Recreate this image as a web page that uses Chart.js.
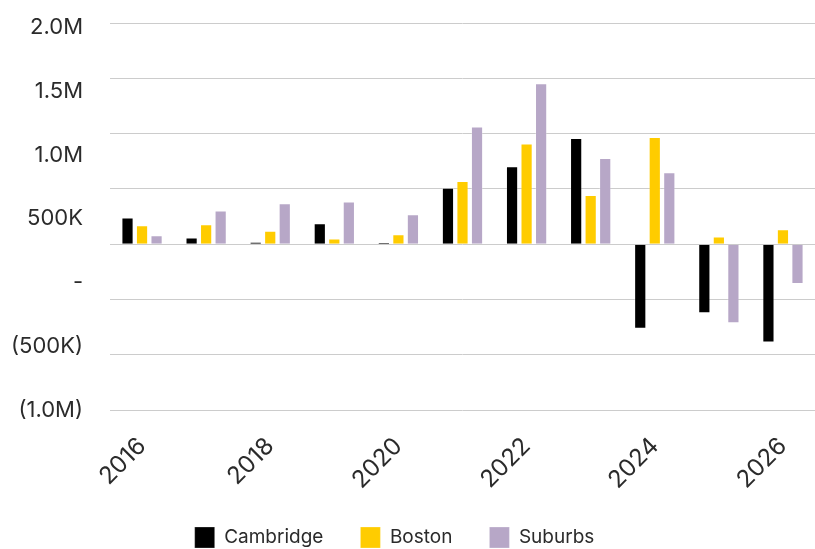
<!DOCTYPE html>
<html>
<head>
<meta charset="utf-8">
<script src="https://cdn.jsdelivr.net/npm/chart.js@4"></script>
<style>
  html, body { margin: 0; padding: 0; background: #fff; }
  #wrap { width: 815px; height: 549px; position: relative; }
</style>
</head>
<body>
<div id="wrap"><canvas id="chart"></canvas></div>
<script>
let years = ["2016", "2017", "2018", "2019", "2020", "2021", "2022", "2023", "2024", "2025", "2026"];
let shownYears = ["2016", "2018", "2020", "2022", "2024", "2026"];

let cambridge = [240000, 60000, 20000, 190000, 15000, 510000, 705000, 960000, -765000, -625000, -890000];
let boston = [170000, 180000, 120000, 50000, 90000, 570000, 910000, 445000, 970000, 70000, 135000];
let suburbs = [80000, 305000, 370000, 385000, 270000, 1065000, 1455000, 780000, 650000, -715000, -360000];

let yTickValues = [2000000, 1500000, 1000000, 500000, 0, -500000, -1000000];
let yTickLabels = ["2.0M", "1.5M", "1.0M", "500K", "-", "(500K)", "(1.0M)"];

let textColor = "#2b2b2b";
let fontName = "Inter";

function yLabel(value) {
    let i = yTickValues.findIndex(t => Math.abs(t - value) < 1);
    return i >= 0 ? yTickLabels[i] : "";
}

function xLabel(value, index) {
    let year = years[index];
    return shownYears.includes(year) ? year : "";
}

function makeDataset(title, values, color) {
    return {
        label: title,
        data: values,
        backgroundColor: color,
        borderColor: "rgba(255, 255, 255, 0.25)",
        borderWidth: 1,
        yAxisID: "y",
        categoryPercentage: 0.68,
        barPercentage: 0.84
    };
}

const chart = new Chart(document.getElementById("chart"), {
    type: "bar",
    data: {
        labels: years,
        datasets: [
            makeDataset("Cambridge", cambridge, "#000000"),
            makeDataset("Boston", boston, "#ffcc00"),
            makeDataset("Suburbs", suburbs, "#b7a7c7")
        ]
    },
    options: {
        responsive: true,
        maintainAspectRatio: false,
        animation: false,
        // the odd negative sides let the plot run to the right edge and pull the legend a bit left
        layout: { padding: { top: 23, left: -30, right: -4, bottom: 0 } },
        plugins: {
            tooltip: { enabled: false },
            legend: {
                position: "bottom",
                maxHeight: 59,
                labels: {
                    boxWidth: 20,
                    boxHeight: 21,
                    padding: 37,
                    color: textColor,
                    font: { family: fontName, size: 19 }
                }
            }
        },
        scales: {
            x: {
                grid: { display: false, drawTicks: false },
                border: { display: false },
                ticks: {
                    autoSkip: false,
                    minRotation: 45,
                    maxRotation: 45,
                    padding: 22,
                    color: textColor,
                    font: { family: fontName, size: 24 },
                    callback: xLabel
                },
                afterFit: function(scale) {
                    scale.height = 80;
                    scale.paddingLeft = 0;
                    scale.paddingRight = 0;
                }
            },
            y: {
                type: "linear",
                position: "right",
                min: -1500000,
                max: 2000000,
                ticks: { display: false, stepSize: 500000 },
                grid: { color: "#cccccc", lineWidth: 1, drawTicks: false },
                border: { display: false },
                afterFit: function(scale) { scale.width = 0; }
            },
            y2: {
                type: "linear",
                axis: "y",
                position: "left",
                min: -1000000,
                max: 2035000,
                afterBuildTicks: function(scale) {
                    scale.ticks = yTickValues.map(v => ({ value: v }));
                },
                ticks: {
                    autoSkip: false,
                    padding: 27,
                    color: textColor,
                    font: { family: fontName, size: 22 },
                    callback: yLabel
                },
                grid: { display: false, drawTicks: false },
                border: { display: false },
                afterFit: function(scale) {
                    scale.width = 140;
                    scale.paddingTop = 0;
                    scale.paddingBottom = 0;
                }
            }
        }
    }
});
</script>
</body>
</html>
